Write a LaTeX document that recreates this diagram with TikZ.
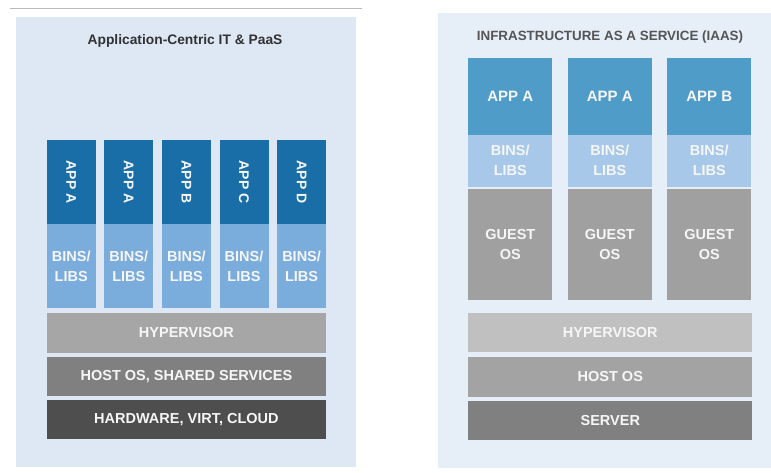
\documentclass[tikz,border=0pt]{standalone}
\usepackage{fontspec}
\setmainfont{Liberation Sans}
\definecolor{bgL}{RGB}{222,232,245}
\definecolor{bgR}{RGB}{230,238,248}
\definecolor{appL}{RGB}{26,110,168}
\definecolor{binL}{RGB}{122,172,220}
\definecolor{hypL}{RGB}{166,166,166}
\definecolor{hostL}{RGB}{128,128,128}
\definecolor{hwL}{RGB}{78,78,78}
\definecolor{appR}{RGB}{80,156,200}
\definecolor{binR}{RGB}{167,200,232}
\definecolor{guestR}{RGB}{160,160,160}
\definecolor{hypR}{RGB}{192,192,192}
\definecolor{hostR}{RGB}{163,163,163}
\definecolor{srvR}{RGB}{128,128,128}
\definecolor{txt}{RGB}{246,246,246}
\begin{document}
\begin{tikzpicture}[x=1pt,y=-1pt,
  layer/.style={draw=none,inner sep=0pt,outer sep=0pt,text=txt,align=center,
    font=\bfseries\fontsize{14.5}{20}\selectfont},
  panel/.style={draw=none,inner sep=0pt,outer sep=0pt,anchor=north west}]
\useasboundingbox (0,0) rectangle (771,472);
\fill[white] (0,0) rectangle (771,472);
% top rule
\coordinate (r1) at (10,8);
\coordinate (r2) at (362,8);
\draw[color={rgb,255:red,185;green,185;blue,185},line width=1pt] (r1) -- (r2);
% panels
\node[panel,fill=bgL,minimum width=340pt,minimum height=450pt] (pL) at (16,17) {};
\node[panel,fill=bgR,minimum width=333pt,minimum height=455pt] (pR) at (438,13) {};
% titles
\node[inner sep=0pt,text={rgb,255:red,50;green,50;blue,50},font=\bfseries\fontsize{13.8}{16}\selectfont] (tL) at (185,41) {Application-Centric IT \& PaaS};
\node[inner sep=0pt,text={rgb,255:red,85;green,85;blue,85},font=\bfseries\fontsize{13.4}{16}\selectfont] (tR) at (610,36.7) {INFRASTRUCTURE AS A SERVICE (IAAS)};
% left columns
\foreach \i/\lab in {0/APP A,1/APP A,2/APP B,3/APP C,4/APP D}{
  \node[layer,fill=appL,minimum width=49pt,minimum height=84.3pt] (la\i) at ({71.2+57.6*\i},182.2) {};
  \node[layer,rotate=-90,font=\bfseries\fontsize{14}{16}\selectfont] (lat\i) at (la\i.center) {\lab};
  \node[layer,fill=binL,minimum width=49pt,minimum height=84pt] (lb\i) at ({71.2+57.6*\i},266.3) {BINS/\\LIBS};
}
% left layers
\node[layer,fill=hypL,minimum width=279.3pt,minimum height=39.4pt] (lhyp) at (186.4,333) {HYPERVISOR};
\node[layer,fill=hostL,minimum width=279.3pt,minimum height=38.7pt] (lhost) at (186.4,376.7) {HOST OS, SHARED SERVICES};
\node[layer,fill=hwL,minimum width=279.3pt,minimum height=39.3pt] (lhw) at (186.4,419.7) {HARDWARE, VIRT, CLOUD};
% right columns
\foreach \i/\lab in {0/APP A,1/APP A,2/APP B}{
  \node[layer,fill=appR,minimum width=84pt,minimum height=76.7pt,font=\bfseries\fontsize{15}{20}\selectfont] (ra\i) at ({510.3+99.5*\i},96.7) {\lab};
  \node[layer,fill=binR,minimum width=84pt,minimum height=51.7pt] (rb\i) at ({510.3+99.5*\i},160.8) {BINS/\\LIBS};
  \node[layer,fill=guestR,minimum width=84pt,minimum height=110.3pt] (rg\i) at ({510.3+99.5*\i},244.5) {GUEST\\OS};
}
% right layers
\node[layer,fill=hypR,minimum width=284pt,minimum height=39pt] (rhyp) at (610.3,332.8) {HYPERVISOR};
\node[layer,fill=hostR,minimum width=284pt,minimum height=40.6pt] (rhost) at (610.3,377) {HOST OS};
\node[layer,fill=srvR,minimum width=284pt,minimum height=39pt] (rsrv) at (610.3,420.5) {SERVER};
\end{tikzpicture}
\end{document}
